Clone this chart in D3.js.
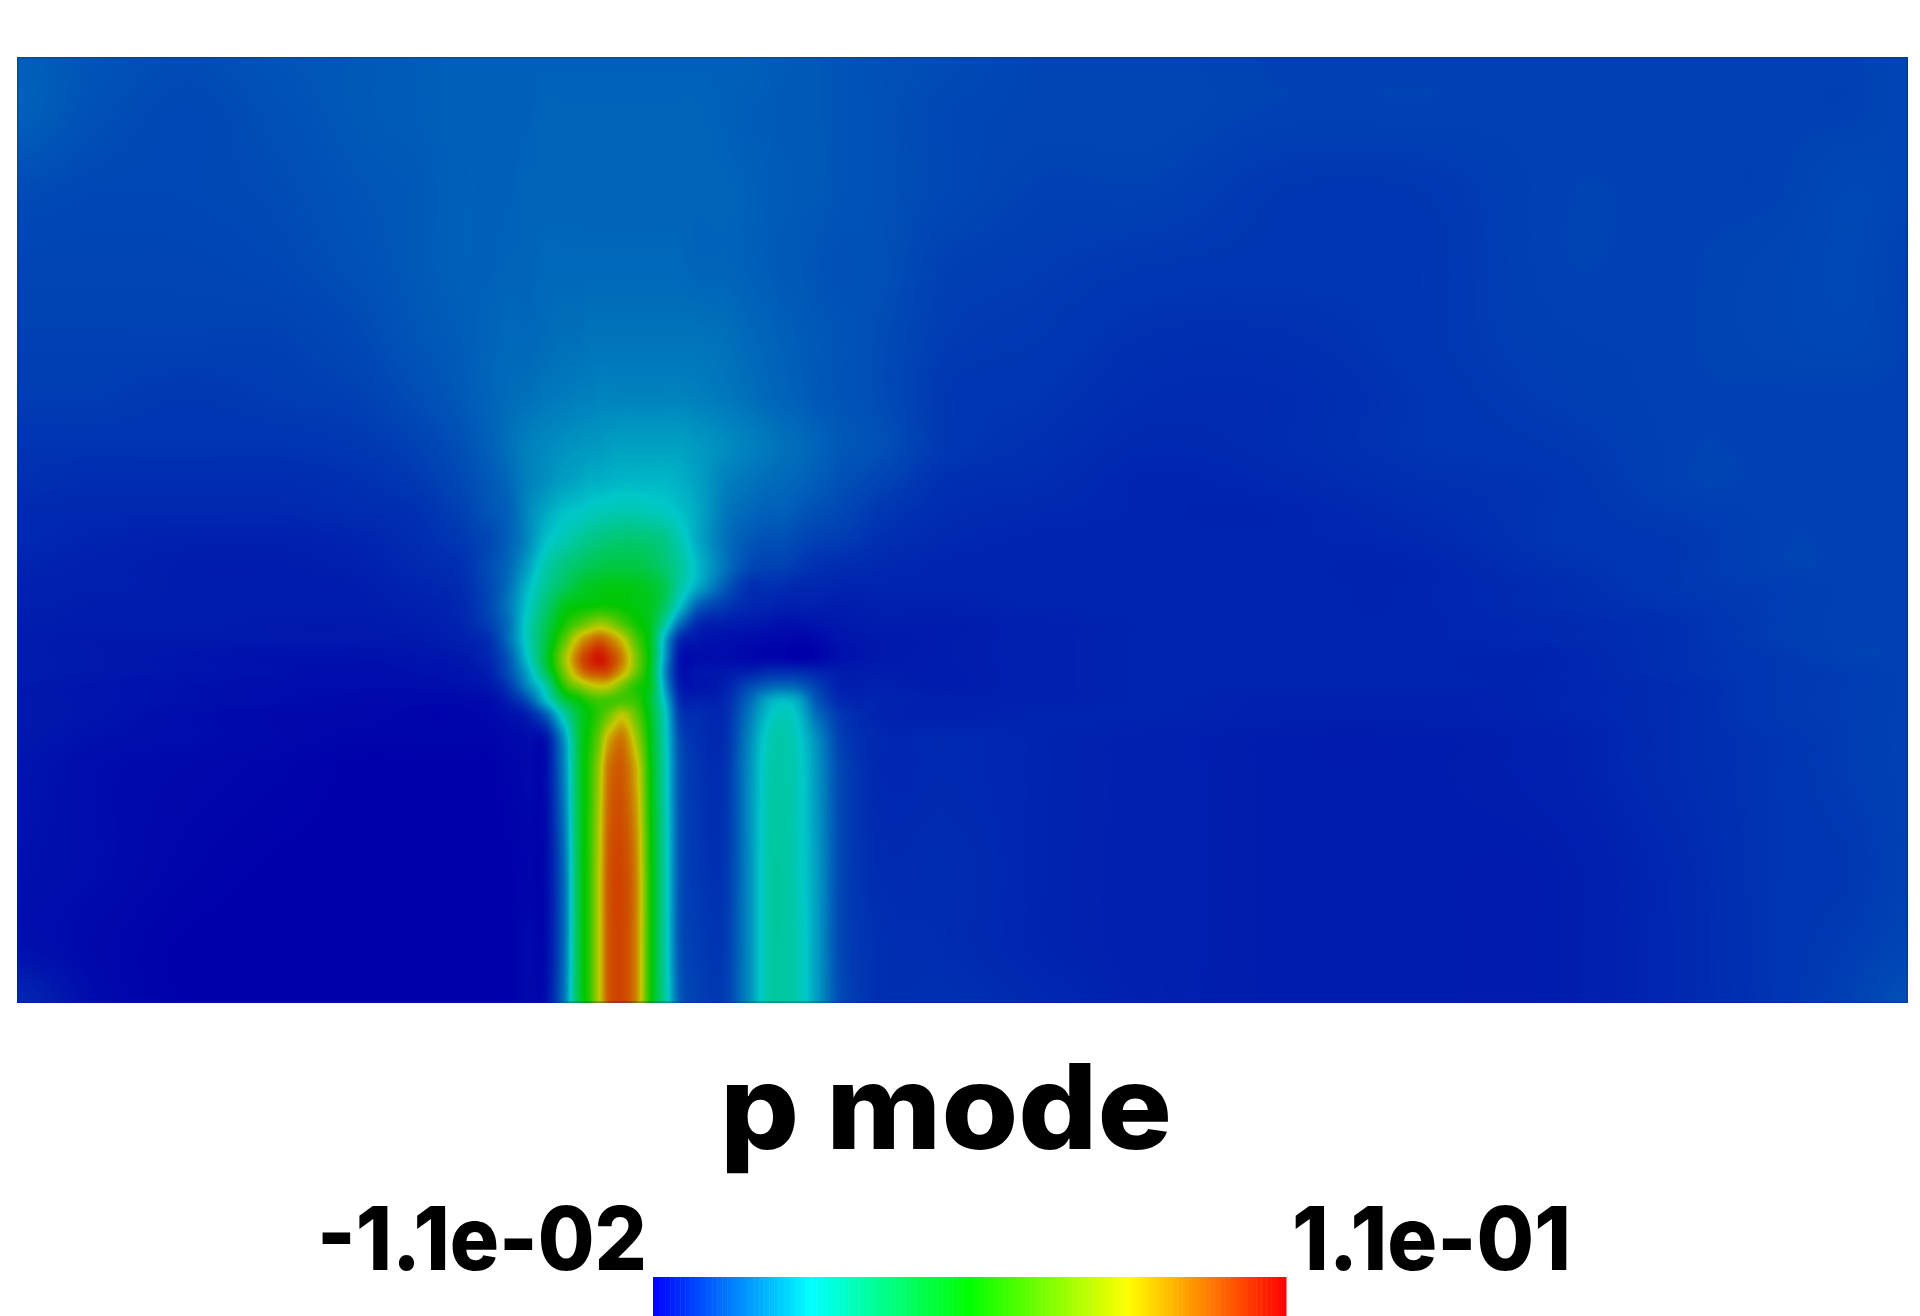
<html>
<head>
    <meta charset="utf-8">
    <title>p mode</title>
    <style type="text/css">
        html, body { margin: 0; padding: 0; background: #fff; overflow: hidden; }
        #chart { position: relative; width: 1920px; height: 1316px; }
        #chart canvas, #chart svg { position: absolute; left: 0; top: 0; }
        text { font-family: "Inter", "Liberation Sans", sans-serif; font-weight: 800; fill: #000; }
    </style>
</head>
<body>
<div id="chart"></div>
<script src="https://d3js.org/d3.v7.min.js"></script>
<script>
var titleText = "p mode";
var rangeValues = [-0.011, 0.11];
var rangeLabels = ["-1.1e-02", "1.1e-01"];

// field, in percent of the colour bar. x 0-200, y 0-100 from the top
var gridX = [0,8,18,28,36,42,47, 50,52,54,56,58,59.5,60.5,61.5,62.5,64,65.5,67,68.5,70,72, 75,77.5,79.5,81,82.5,84.5,87,91, 98,108,120,134,148,162,176,186,194,200];
var gridY = [0,6,14,22,30,36,41,45,48,51,54,56,58,60,61.5,63.5,65,66.5,68,69.5,72,75,86,94,100];
var levels = [
 [12,10.5,9.5,10.5,11,11.5,12, 12,12,12,12,12,12,12,12,12,12,12,12,12,12,12, 12,12,11.5,11.5,11,11,10.5,10, 9.5,8.5,8.5,8,8,8,8,8,8,8.5],
 [12,10,9,10,11,11.5,12, 12,12,12,12.5,12.5,12.5,12.5,12.5,12.5,12.5,12.5,12.5,12.5,12.5,12.5, 12,11.5,11.5,11,11,11,10.5,10, 9,8.5,8.5,8,8,8,8,8,8,8.5],
 [9.5,9,9,9.5,10.5,11,12, 12,12,12.5,12.5,12.5,12.5,12.5,12.5,12.5,12.5,12.5,12.5,12.5,12.5,12.5, 12.5,12,11.5,11.5,11,11,10.5,10, 9,8,8,7,7,8,8,8,9,8.5],
 [8.5,8.5,8.5,9,10,11,12, 12,12.5,12.5,13,13,13,13,13,13,13,13,13,13,13,12.5, 12.5,12,11.5,11,11,10.5,10,10, 8,7.5,7,6.8,6.8,8,8,8.5,9,8],
 [8,8,8,8,9,10.5,11.5, 12.5,13,13,13.5,14,14,14.5,14.5,14.5,14.5,14.5,14.5,14.5,14.5,14.5, 14,13,12.5,12,11.5,11,10.5,9.5, 7.5,7,6,6,6.8,7.8,8,8.5,8.8,8],
 [7.5,7.5,7,7.5,8,9.5,11, 12.5,13.5,14,15,15.5,16,16,16.5,16.5,16.5,16.5,16.5,16.5,16.5,16, 15,14,13,12.5,12,11,10.5,9.5, 7,6.5,5.5,5.5,6.5,7.5,8,8,8,8],
 [6.5,6.5,6.5,6.5,7,8,10, 12,14,16,17,18,18.5,19,19,19.5,20,20,20,20,20,19, 17.5,16,15,14,13.5,12.5,11,10, 7,6,5,5.5,6.5,7,8,8,8,8],
 [6,5.5,5.5,5.5,6,7,9, 11,13,16,18,20,21,22,22,22.5,23,23,23,23,22,20, 16,14.5,13.5,13,12.5,11.5,10,8.5, 6,5.5,4.5,5,6,6.5,8,8,8,8],
 [5,5,5,5,5.5,6,8, 10.5,12,17,21,24,25,26,27,27.5,28,28,27,26,24,21, 15,13,12,12,11,10,9,7, 5.5,5,4.5,4.5,5.5,6.5,7.5,8,8,8],
 [5,4.5,4,4,4.5,5.5,7, 9,12,17,24,28,31,33,34,35,36,36,35,33,28,21, 14,11,10,10,9,8,7.5,6, 5,4.5,4.5,4.5,5,6.5,7,8,8,8],
 [4.5,4,3.5,3.5,4,5,6, 9.5,13,20,29,35,38,40,41,42,42,42,40,36,31,23, 14,9,8,8,7,6,5.5,5, 4.5,4.5,4.5,4.5,4.5,6,7,8,8,8],
 [4,4,3.5,3.5,3.5,4.5,5.5, 9,14,23,32,39,44,46,47,48,48,47,45,40,30,21, 11,6,6,5.5,5,5,4.5,4.5, 4.5,4.5,4.5,4.5,4.5,5.5,7,7.5,8,8],
 [4,3.5,3.5,3.5,3.5,4,5, 9,15,25,36,47,49,50,51,51,50,48,46,38,25,12, 7,5,4.5,4,4,4,3.5,4, 4,4.5,4.5,4.5,4.5,5.5,6.5,7.5,8,8],
 [3.5,3.5,3.5,3,3,3.5,4.5, 8,14,27,40,53,61,66,70,68,60,52,46,30,14,5, 3.5,3,2.5,2,2,2.5,3,3.5, 3.5,4,4.5,4.5,4.5,5,6,7.5,8,8],
 [3.5,3,3,3,3,3,4, 6,14,27,42,61,78,85,89,86,75,59,46,22,6,3, 2,1.5,1,1,0.5,1,2.5,3, 3.5,4,4.5,4.5,4.5,5,6,7.5,8,8],
 [3.5,3,2.5,2,2,2.5,3, 5,11,25,44,70,89,96,100,96,85,65,47,20,3,1.5, 1.5,1,0.5,0.5,0,0.5,2,3, 3.5,4,4.5,4.5,4.5,4.5,6,7,8,8],
 [3.5,3,2.5,2,1.5,2,2.5, 4,10,21,40,66,84,91,93,92,80,63,46,18,3,2.5, 3,4,5.5,5.5,5.5,4.5,3.5,3.5, 3.5,4,4.5,4.5,4.5,4.5,6,7,7.5,8],
 [3,2.5,2,1.5,1.5,1.5,2, 3,7,17,30,56,66,72,75,74,64,54,46,20,4,2.5, 4,9,12,13,12,8,4,4, 3.5,4,4.5,4.5,4.5,4.5,5.5,7,7.5,8],
 [3,2.5,2,1.5,1,1,1, 1.5,4,10,24,42,50,55,58,58,58,56,44,24,6,4, 5,13,21,23,21,11,5,4.5, 4,4,4.5,4,4,4.5,5.5,7,7.5,8],
 [3,2.5,1.5,1,1,0.5,0.5, 1,2,4,12,30,44,50,56,63,73,62,46,27,8,5.5, 5.5,15,24,27,24,14,7,4.5, 4,4.5,4.5,4,4,4.5,5.5,7,7.5,8],
 [3,2,1.5,1,0.5,0.5,0.5, 0.5,1,1.5,3,20,43,52,62,78,86,70,48,28,10,6, 6,17,27,29,26,18,8,5, 5,4.5,4,3.5,3.5,4,5.5,6.5,7.5,8],
 [2.5,1.5,1,0.5,0,0,0, 0,0.5,1,2,18,43,54,68,86,90,78,50,29,11,6.5, 6.5,18,28,29,27,19,9,5, 5,4.5,4,3.5,3.5,4,5.5,6.5,7.5,8],
 [2,1.5,0.5,0,0,0,0, 0,0,0.5,1.5,15,43,55,72,90,93,84,52,30,11,7, 7,18,29,30,27,20,9,5.5, 5.5,4.5,4,3.5,3.5,3.5,5,6.5,7,8],
 [2,1,0,0,0,0,0, 0,0,1,1.5,15,43,55,72,90,93,84,52,30,11,7.5, 7.5,18,29,30,28,20,9,6, 5.5,4.5,4,3.5,3.5,3.5,5,6.5,7.5,8.5],
 [5,1.5,0,0,0,0,0, 0,0,1,2,16,43,55,72,90,93,84,52,31,12,8, 8,18,29,30,28,20,9.5,6, 6,5,4,3.5,3.5,3.5,5,6.5,8,10]
];

var colorStops = [0, 25, 50, 75, 100];
var fieldColors = ["#0000aa", "#00c8c8", "#00c800", "#c8c800", "#d21400"];
var legendColors = ["#0000ff", "#00ffff", "#00ff00", "#ffff00", "#ff0000"];

var plot = {left: 17, top: 57, width: 1891, height: 946};

var xScale = d3.scaleLinear().domain([0, 200]).range([plot.left, plot.left + plot.width]);
var yScale = d3.scaleLinear().domain([0, 100]).range([plot.top, plot.top + plot.height]);
var colIndex = d3.scaleLinear().domain(gridX).range(d3.range(gridX.length)).clamp(true);
var rowIndex = d3.scaleLinear().domain(gridY).range(d3.range(gridY.length)).clamp(true);
var fieldColor = d3.scaleLinear().domain(colorStops).range(fieldColors).clamp(true);
var legendColor = d3.scaleLinear().domain(colorStops).range(legendColors);

// smooth blend through four neighbouring grid values
function blend(a, b, c, d, t) {
    return b + 0.5 * t * (c - a + t * (2 * a - 5 * b + 4 * c - d + t * (3 * (b - c) + d - a)));
}
function clampTo(i, n) { return Math.max(0, Math.min(n - 1, i)); }

var chart = d3.select("#chart");

// field: drawn pixel by pixel from the grid
var canvas = chart.append("canvas").attr("width", 1920).attr("height", 1316);
var ctx = canvas.node().getContext("2d");
var image = ctx.createImageData(plot.width, plot.height);

var nCol = gridX.length, nRow = gridY.length;

// column position of every pixel across the plot
var pixelCols = d3.range(plot.width).map(function(px){
    var fx = colIndex(xScale.invert(plot.left + px + 0.5));
    var c = Math.min(Math.floor(fx), nCol - 2);
    return {c: c, t: fx - c};
});

for (var py = 0; py < plot.height; py++) {
    var fy = rowIndex(yScale.invert(plot.top + py + 0.5));
    var r = Math.min(Math.floor(fy), nRow - 2), ty = fy - r;
    var rows = [levels[clampTo(r - 1, nRow)], levels[r], levels[r + 1], levels[clampTo(r + 2, nRow)]];
    for (var px = 0; px < plot.width; px++) {
        var c = pixelCols[px].c, tx = pixelCols[px].t;
        var c0 = clampTo(c - 1, nCol), c3 = clampTo(c + 2, nCol);
        var v = blend(
            blend(rows[0][c0], rows[0][c], rows[0][c + 1], rows[0][c3], tx),
            blend(rows[1][c0], rows[1][c], rows[1][c + 1], rows[1][c3], tx),
            blend(rows[2][c0], rows[2][c], rows[2][c + 1], rows[2][c3], tx),
            blend(rows[3][c0], rows[3][c], rows[3][c + 1], rows[3][c3], tx),
            ty);
        var col = d3.rgb(fieldColor(v));
        var i = (py * plot.width + px) * 4;
        image.data[i] = col.r;
        image.data[i + 1] = col.g;
        image.data[i + 2] = col.b;
        image.data[i + 3] = 255;
    }
}
ctx.putImageData(image, plot.left, plot.top);

var svg = chart.append("svg").attr("width", 1920).attr("height", 1316);

// darker rim round the field
svg.append("rect")
    .attr("x", plot.left + 1)
    .attr("y", plot.top + 1)
    .attr("width", plot.width - 2)
    .attr("height", plot.height - 2)
    .attr("fill", "none")
    .attr("stroke", "#003070")
    .attr("stroke-opacity", 0.3)
    .attr("stroke-width", 2);

svg.append("text")
    .attr("x", 946)
    .attr("y", 1149)
    .attr("text-anchor", "middle")
    .attr("font-size", 118)
    .attr("textLength", 452)
    .attr("lengthAdjust", "spacingAndGlyphs")
    .text(titleText);

// colour bar
var barScale = d3.scaleLinear().domain(rangeValues).range([653, 1286]);
var barSteps = d3.range(0, 256);
var stepValue = d3.scaleLinear().domain([0, 256]).range(rangeValues);
var toLevel = d3.scaleLinear().domain(rangeValues).range([0, 100]);

svg.append("g").selectAll("rect")
    .data(barSteps)
    .enter()
    .append("rect")
    .attr("x", function(d){ return barScale(stepValue(d)); })
    .attr("y", 1277)
    .attr("width", function(d){ return barScale(stepValue(d + 1)) - barScale(stepValue(d)) + 0.5; })
    .attr("height", 39)
    .attr("fill", function(d){ return legendColor(toLevel(stepValue(d + 0.5))); });

svg.append("text")
    .attr("x", barScale(rangeValues[0]) - 6)
    .attr("y", 1270)
    .attr("text-anchor", "end")
    .attr("font-size", 88)
    .attr("textLength", 330)
    .attr("lengthAdjust", "spacingAndGlyphs")
    .text(rangeLabels[0]);

svg.append("text")
    .attr("x", barScale(rangeValues[1]) + 6)
    .attr("y", 1270)
    .attr("text-anchor", "start")
    .attr("font-size", 88)
    .attr("textLength", 279)
    .attr("lengthAdjust", "spacingAndGlyphs")
    .text(rangeLabels[1]);
</script>
</body>
</html>
